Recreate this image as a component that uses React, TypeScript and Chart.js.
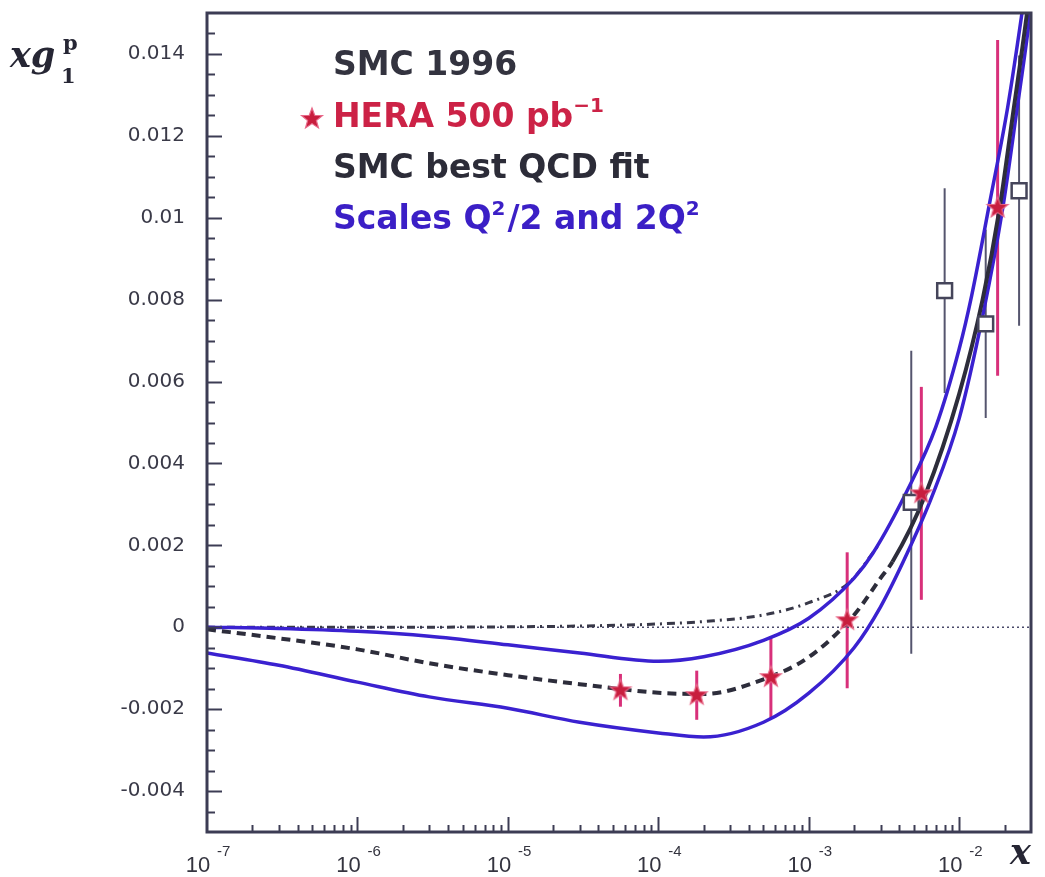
import React, { useEffect, useRef } from 'react';
import { Chart, registerables } from 'chart.js';
Chart.register(...registerables);

// ---- axis ranges & ticks ----
const X_MIN = 1e-7;
const X_MAX = 0.03;
const Y_MIN = -0.005;
const Y_MAX = 0.015;
const yTickValues = [-0.004, -0.002, 0, 0.002, 0.004, 0.006, 0.008, 0.01, 0.012, 0.014];
const yTickLabels = ['-0.004', '-0.002', '0', '0.002', '0.004', '0.006', '0.008', '0.01', '0.012', '0.014'];
const xDecadeExponents = [-7, -6, -5, -4, -3, -2];

// ---- HERA 500 pb^-1 projected points ----
const heraX = [5.6e-5, 1.8e-4, 5.6e-4, 1.8e-3, 5.6e-3, 1.8e-2];
const heraY = [-0.00154, -0.00166, -0.00122, 0.00017, 0.00327, 0.01024];
const heraErr = [0.0004, 0.0006, 0.001, 0.00166, 0.0026, 0.0041];

// ---- SMC 1996 points ----
const smcX = [4.8e-3, 8e-3, 1.5e-2, 2.5e-2];
const smcY = [0.00305, 0.00822, 0.00741, 0.01066];
const smcErr = [0.0037, 0.0025, 0.0023, 0.0033];

// ---- SMC best QCD fit (dashed below FIT_DASH_END, solid above) ----
const fitX = [1e-7, 3e-7, 1e-6, 3e-6, 1e-5, 3e-5, 1e-4, 2e-4, 5e-4, 1e-3, 2e-3, 3e-3, 3.6e-3, 5.9e-3, 1e-2, 1.43e-2, 1.85e-2, 2.25e-2, 2.8e-2, 3e-2];
const fitY = [-0.00005, -0.00027, -0.00054, -0.00088, -0.00117, -0.00139, -0.0016, -0.00163, -0.00127, -0.00073, 0.0003, 0.0012, 0.0016, 0.0032, 0.0057, 0.008, 0.0102, 0.0124, 0.0149, 0.0158];
const FIT_DASH_END = 3.6e-3;

// ---- Scales Q^2/2 and 2Q^2 (upper and lower curves) ----
const upperX = [1e-7, 3e-7, 1e-6, 3e-6, 1e-5, 3e-5, 1e-4, 2e-4, 5e-4, 1e-3, 2e-3, 2.66e-3, 4.6e-3, 7e-3, 1e-2, 1.21e-2, 1.6e-2, 2.1e-2, 2.59e-2, 3e-2];
const upperY = [0, -0.00003, -0.0001, -0.00022, -0.00043, -0.00063, -0.00083, -0.00072, -0.00032, 0.00022, 0.0012, 0.0018, 0.0034, 0.0049, 0.0068, 0.0081, 0.0104, 0.0127, 0.0149, 0.0166];
const lowerX = [1e-7, 3e-7, 1e-6, 3e-6, 1e-5, 3e-5, 1e-4, 2e-4, 5e-4, 1e-3, 2e-3, 3e-3, 4.5e-3, 6.6e-3, 1e-2, 1.45e-2, 1.94e-2, 2.41e-2, 2.94e-2, 3e-2];
const lowerY = [-0.00063, -0.00093, -0.00134, -0.0017, -0.00198, -0.00232, -0.00258, -0.00268, -0.00232, -0.00161, -0.0005, 0.0005, 0.0018, 0.0032, 0.0051, 0.0077, 0.0102, 0.0126, 0.0149, 0.0152];

// ---- dash-dotted curve ----
const dashDotX = [1e-7, 1e-6, 1e-5, 3e-5, 1e-4, 2e-4, 5e-4, 1e-3, 1.87e-3, 2.9e-3];
const dashDotY = [0, 0, 0.00001, 0.00003, 0.00008, 0.00014, 0.0003, 0.0006, 0.0011, 0.002];

// ---- zero reference line ----
const zeroX = [X_MIN, X_MAX];
const zeroY = [0, 0];

const BLUE = '#3a21d0';
const DARK = '#2d2d3b';
const FRAME = '#3c3c54';
const RED = '#c81e3e';
const PINK = '#d8307a';

const pts = (xs: number[], ys: number[]) => xs.map((x, i) => ({ x, y: ys[i] }));

function makeStar(size: number, outer: number, inner: number) {
  const c = document.createElement('canvas');
  c.width = size;
  c.height = size;
  const g = c.getContext('2d')!;
  g.beginPath();
  for (let i = 0; i < 10; i++) {
    const r = i % 2 === 0 ? outer : inner;
    const a = -Math.PI / 2 + (i * Math.PI) / 5;
    const px = size / 2 + r * Math.cos(a);
    const py = size / 2 + r * Math.sin(a);
    if (i === 0) g.moveTo(px, py);
    else g.lineTo(px, py);
  }
  g.closePath();
  g.fillStyle = RED;
  g.fill();
  g.strokeStyle = '#e86a8a';
  g.lineWidth = 1.2;
  g.stroke();
  return c;
}

function richText(ctx: CanvasRenderingContext2D, x: number, base: number, parts: { t: string; sup?: boolean }[], font: string, supFont: string, rise: number) {
  let cx = x;
  for (const p of parts) {
    ctx.font = p.sup ? supFont : font;
    ctx.fillText(p.t, cx, p.sup ? base - rise : base);
    cx += ctx.measureText(p.t).width + (p.sup ? 2 : 0);
  }
}

export default function App() {
  const ref = useRef<HTMLCanvasElement>(null);
  useEffect(() => {
    const canvas = ref.current!;
    const star = makeStar(26, 11, 4.6);

    const decor = {
      id: 'decor',
      beforeDatasetsDraw(chart: any) {
        const { ctx, scales } = chart;
        const xs = scales.x, ys = scales.y;
        const bars = (X: number[], Y: number[], E: number[], color: string, w: number) => {
          ctx.save();
          ctx.strokeStyle = color;
          ctx.lineWidth = w;
          X.forEach((xv, i) => {
            const px = xs.getPixelForValue(xv);
            ctx.beginPath();
            ctx.moveTo(px, ys.getPixelForValue(Y[i] + E[i]));
            ctx.lineTo(px, ys.getPixelForValue(Y[i] - E[i]));
            ctx.stroke();
          });
          ctx.restore();
        };
        bars(smcX, smcY, smcErr, '#55556e', 2);
        bars(heraX, heraY, heraErr, PINK, 3);
      },
      afterDraw(chart: any) {
        const { ctx, chartArea: a, scales } = chart;
        const xs = scales.x, ys = scales.y;
        ctx.save();
        // inward ticks on y axis
        ctx.strokeStyle = FRAME;
        ctx.lineWidth = 2;
        for (let k = 1; k < 40; k++) {
          const v = Y_MIN + k * 0.0005;
          const major = Math.abs(v / 0.002 - Math.round(v / 0.002)) < 1e-6;
          const py = Math.round(ys.getPixelForValue(v)) + 0.5;
          ctx.beginPath();
          ctx.moveTo(a.left, py);
          ctx.lineTo(a.left + (major ? 15 : 8), py);
          ctx.stroke();
        }
        // inward ticks on x axis
        for (const e of xDecadeExponents) {
          for (let m = 1; m <= 9; m++) {
            const v = m * Math.pow(10, e);
            if (v <= X_MIN * 1.0001 || v >= X_MAX) continue;
            const px = Math.round(xs.getPixelForValue(v)) + 0.5;
            ctx.beginPath();
            ctx.moveTo(px, a.bottom);
            ctx.lineTo(px, a.bottom - (m === 1 ? 15 : 7));
            ctx.stroke();
          }
        }
        // frame
        ctx.lineWidth = 3;
        ctx.strokeRect(a.left, a.top, a.right - a.left, a.bottom - a.top);

        // x tick labels 10^n
        ctx.fillStyle = '#34343f';
        ctx.textBaseline = 'alphabetic';
        for (const e of xDecadeExponents) {
          const px = xs.getPixelForValue(Math.pow(10, e));
          ctx.font = '22px "Liberation Sans", Arial, sans-serif';
          ctx.textAlign = 'center';
          ctx.fillText('10', px - 9, 872);
          ctx.font = '15px "Liberation Sans", Arial, sans-serif';
          ctx.textAlign = 'left';
          ctx.fillText(String(e), px + 10, 856);
        }

        // axis titles
        ctx.fillStyle = '#262634';
        ctx.textAlign = 'left';
        ctx.font = 'bold italic 35px "DejaVu Serif", serif';
        ctx.fillText('xg', 10, 67);
        ctx.font = 'bold 21px "DejaVu Serif", serif';
        ctx.fillText('1', 61, 83);
        ctx.fillText('p', 63, 50);
        ctx.font = 'bold italic 35px "DejaVu Serif", serif';
        ctx.fillText('x', 1010, 864);

        // legend block
        const F = 'bold 33px "DejaVu Sans", sans-serif';
        const SF = 'bold 20px "DejaVu Sans", sans-serif';
        ctx.fillStyle = '#33333f';
        richText(ctx, 333, 75, [{ t: 'SMC 1996' }], F, SF, 0);
        ctx.fillStyle = '#cc2246';
        richText(ctx, 333, 127, [{ t: 'HERA 500 pb' }, { t: '\u22121', sup: true }], F, SF, 15);
        ctx.drawImage(star, 312 - 13, 119 - 13);
        ctx.fillStyle = '#2c2c38';
        richText(ctx, 333, 178, [{ t: 'SMC best QCD fit' }], F, SF, 0);
        ctx.fillStyle = '#3b1fc6';
        richText(ctx, 333, 229, [{ t: 'Scales Q' }, { t: '2', sup: true }, { t: '/2 and 2Q' }, { t: '2', sup: true }], F, SF, 14);
        ctx.restore();
      },
    };

    const curve = (label: string, xs: number[], ys: number[], color: string, width: number, extra: any = {}) => ({
      label,
      data: pts(xs, ys),
      showLine: true,
      pointRadius: 0,
      borderColor: color,
      borderWidth: width,
      cubicInterpolationMode: 'monotone',
      ...extra,
    });

    const chart = new Chart(canvas, {
      type: 'scatter',
      data: {
        datasets: [
          {
            label: 'HERA 500 pb-1',
            data: pts(heraX, heraY),
            pointStyle: star as any,
            pointRadius: 11,
            showLine: false,
          },
          {
            label: 'SMC 1996',
            data: pts(smcX, smcY),
            pointStyle: 'rect',
            pointRadius: 10.5,
            pointBackgroundColor: '#ffffff',
            pointBorderColor: '#45455a',
            pointBorderWidth: 2.5,
            showLine: false,
          },
          curve('SMC best QCD fit', fitX, fitY, DARK, 4, {
            segment: {
              borderDash: (c: any) => (c.p1.parsed.x <= FIT_DASH_END ? [9, 6] : []),
            },
          }),
          curve('Scale Q2/2', upperX, upperY, BLUE, 3.5),
          curve('Scale 2Q2', lowerX, lowerY, BLUE, 3.5),
          curve('dash-dot', dashDotX, dashDotY, '#383848', 3, { borderDash: [8, 5, 2, 5] }),
          curve('zero', zeroX, zeroY, '#4a4a6a', 1.5, { borderDash: [2, 3], cubicInterpolationMode: 'default' }),
        ],
      },
      options: {
        responsive: false,
        animation: false,
        devicePixelRatio: 1,
        layout: { padding: { left: 0, top: 12, right: 14, bottom: 45 } },
        plugins: { legend: { display: false }, tooltip: { enabled: false } },
        scales: {
          x: { type: 'logarithmic', min: X_MIN, max: X_MAX, display: false },
          y: {
            type: 'linear',
            min: Y_MIN,
            max: Y_MAX,
            afterFit: (s: any) => {
              s.width = 207;
              s.paddingTop = 0;
              s.paddingBottom = 0;
            },
            afterBuildTicks: (s: any) => {
              s.ticks = yTickValues.map((v) => ({ value: v }));
            },
            ticks: {
              autoSkip: false,
              padding: 22,
              color: '#3a3a48',
              font: { family: '"DejaVu Sans", sans-serif', size: 20 },
              callback: (v: any) => {
                const i = yTickValues.findIndex((t) => Math.abs(t - v) < 1e-9);
                return i >= 0 ? yTickLabels[i] : '';
              },
            },
            grid: { display: false, drawTicks: false },
            border: { display: false },
          },
        },
      },
      plugins: [decor],
    } as any);
    return () => chart.destroy();
  }, []);
  return (
    <div style={{ position: 'fixed', left: 0, top: 0, width: 1045, height: 877, background: '#fff' }}>
      <canvas ref={ref} width={1045} height={877} style={{ display: 'block', width: 1045, height: 877 }} />
    </div>
  );
}
